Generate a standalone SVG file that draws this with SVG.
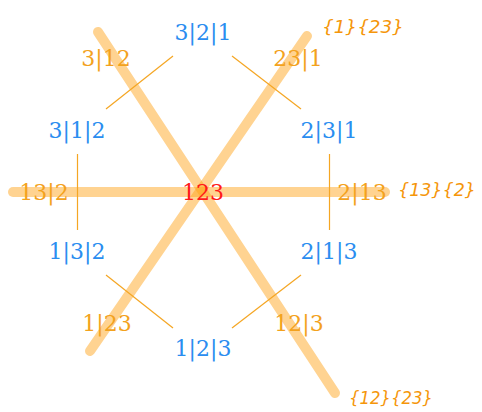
<svg xmlns="http://www.w3.org/2000/svg" width="482" height="412" viewBox="0 0 482 412">
<style>
.thick{stroke:#ffa21a;stroke-opacity:0.48;stroke-width:10;stroke-linecap:round;fill:none}
.thin{stroke:#f5a623;stroke-width:1.2;fill:none}
.blue{fill:#2a8df0}
.org{fill:#f3a21d}
.red{fill:#ff1a1a}
</style>
<g id="connectors">
<line class="thick" x1="98" y1="32" x2="335" y2="393"/>
<line class="thick" x1="307" y1="36" x2="90" y2="351"/>
<line class="thick" x1="13" y1="192" x2="385" y2="192"/>
<line class="thin" x1="173" y1="56" x2="106" y2="109"/>
<line class="thin" x1="232" y1="56" x2="301" y2="109"/>
<line class="thin" x1="77.5" y1="154" x2="77.5" y2="230"/>
<line class="thin" x1="329.5" y1="154" x2="329.5" y2="230"/>
<line class="thin" x1="106" y1="275" x2="173" y2="328"/>
<line class="thin" x1="301" y1="275" x2="232" y2="328"/>
</g>
<g font-family="'DejaVu Serif', 'Liberation Serif', serif" font-size="22" text-anchor="middle">
<g id="n321"><text class="blue" x="203" y="40">3|2|1</text></g>
<g id="n312"><text class="blue" x="77" y="138">3|1|2</text></g>
<g id="n231"><text class="blue" x="329" y="138">2|3|1</text></g>
<g id="n132"><text class="blue" x="77" y="259">1|3|2</text></g>
<g id="n213"><text class="blue" x="329" y="259">2|1|3</text></g>
<g id="n123"><text class="blue" x="203" y="356">1|2|3</text></g>
<g id="e3_12"><text class="org" x="106" y="66">3|12</text></g>
<g id="e23_1"><text class="org" x="298" y="66">23|1</text></g>
<g id="e13_2"><text class="org" x="44" y="200">13|2</text></g>
<g id="e2_13"><text class="org" x="362" y="200">2|13</text></g>
<g id="e1_23"><text class="org" x="107" y="331">1|23</text></g>
<g id="e12_3"><text class="org" x="299" y="331">12|3</text></g>
<g id="center"><text class="red" x="203" y="200">123</text></g>
</g>
<g font-family="'DejaVu Sans', 'Liberation Sans', sans-serif" font-style="italic" font-size="18" fill="#f5960a">
<g id="h1"><text x="322" y="33" textLength="82" lengthAdjust="spacingAndGlyphs">{1}{23}</text></g>
<g id="h2"><text x="398" y="196" textLength="78" lengthAdjust="spacingAndGlyphs">{13}{2}</text></g>
<g id="h3"><text x="349" y="404" textLength="84" lengthAdjust="spacingAndGlyphs">{12}{23}</text></g>
</g>
</svg>
